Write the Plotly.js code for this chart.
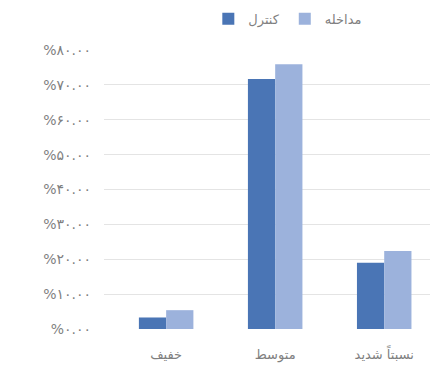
<!DOCTYPE html>
<html>
<head>
<meta charset="utf-8">
<script src="https://cdn.plot.ly/plotly-3.0.1.min.js"></script>
<style>html,body{margin:0;padding:0;background:#fff;}#chart{width:434px;height:370px;}</style>
</head>
<body>
<div id="chart"></div>
<script>
var categories = ['خفیف', 'متوسط', 'نسبتاً شدید'];
var controlValues = [3.3, 71.7, 19.0];
var interventionValues = [5.4, 75.9, 22.4];
var seriesNames = ['کنترل', 'مداخله'];
var tickValues = [0, 10, 20, 30, 40, 50, 60, 70, 80];
var tickLabels = ['%۰.۰۰', '%۱۰.۰۰', '%۲۰.۰۰', '%۳۰.۰۰', '%۴۰.۰۰', '%۵۰.۰۰', '%۶۰.۰۰', '%۷۰.۰۰', '%۸۰.۰۰'];

var font = 'DejaVu Sans, sans-serif';
var traces = [
  {type: 'bar', name: seriesNames[0], x: [0, 1, 2], y: controlValues, marker: {color: '#4a75b5'}},
  {type: 'bar', name: seriesNames[1], x: [0, 1, 2], y: interventionValues, marker: {color: '#9cb2dc'}}
];
var layout = {
  width: 434, height: 370,
  margin: {l: 104, r: 4, t: 50, b: 41},
  paper_bgcolor: '#ffffff', plot_bgcolor: '#ffffff',
  barmode: 'group', bargap: 0.5, bargroupgap: 0,
  showlegend: true,
  legend: {orientation: 'h', xref: 'container', yref: 'container', x: 0.48, xanchor: 'left', y: 0.99, yanchor: 'top',
           font: {family: font, size: 13, color: '#7f7f7f'}, itemwidth: 30, tracegroupgap: 0},
  xaxis: {range: [-0.57, 2.42], tickvals: [0, 1, 2], ticktext: categories, showgrid: false, zeroline: false,
          showline: false, ticks: '', ticklabelstandoff: 16,
          tickfont: {family: font, size: 13, color: '#7f7f7f'}, fixedrange: true},
  yaxis: {range: [0, 80], tickvals: tickValues, ticktext: tickLabels, showgrid: true, gridcolor: '#e4e4e4', gridwidth: 1,
          zeroline: false, showline: false, ticks: '', ticklabelstandoff: 12,
          tickfont: {family: font, size: 14, color: '#7f7f7f'}, fixedrange: true}
};
Plotly.newPlot('chart', traces, layout, {displayModeBar: false, staticPlot: true});
</script>
</body>
</html>
